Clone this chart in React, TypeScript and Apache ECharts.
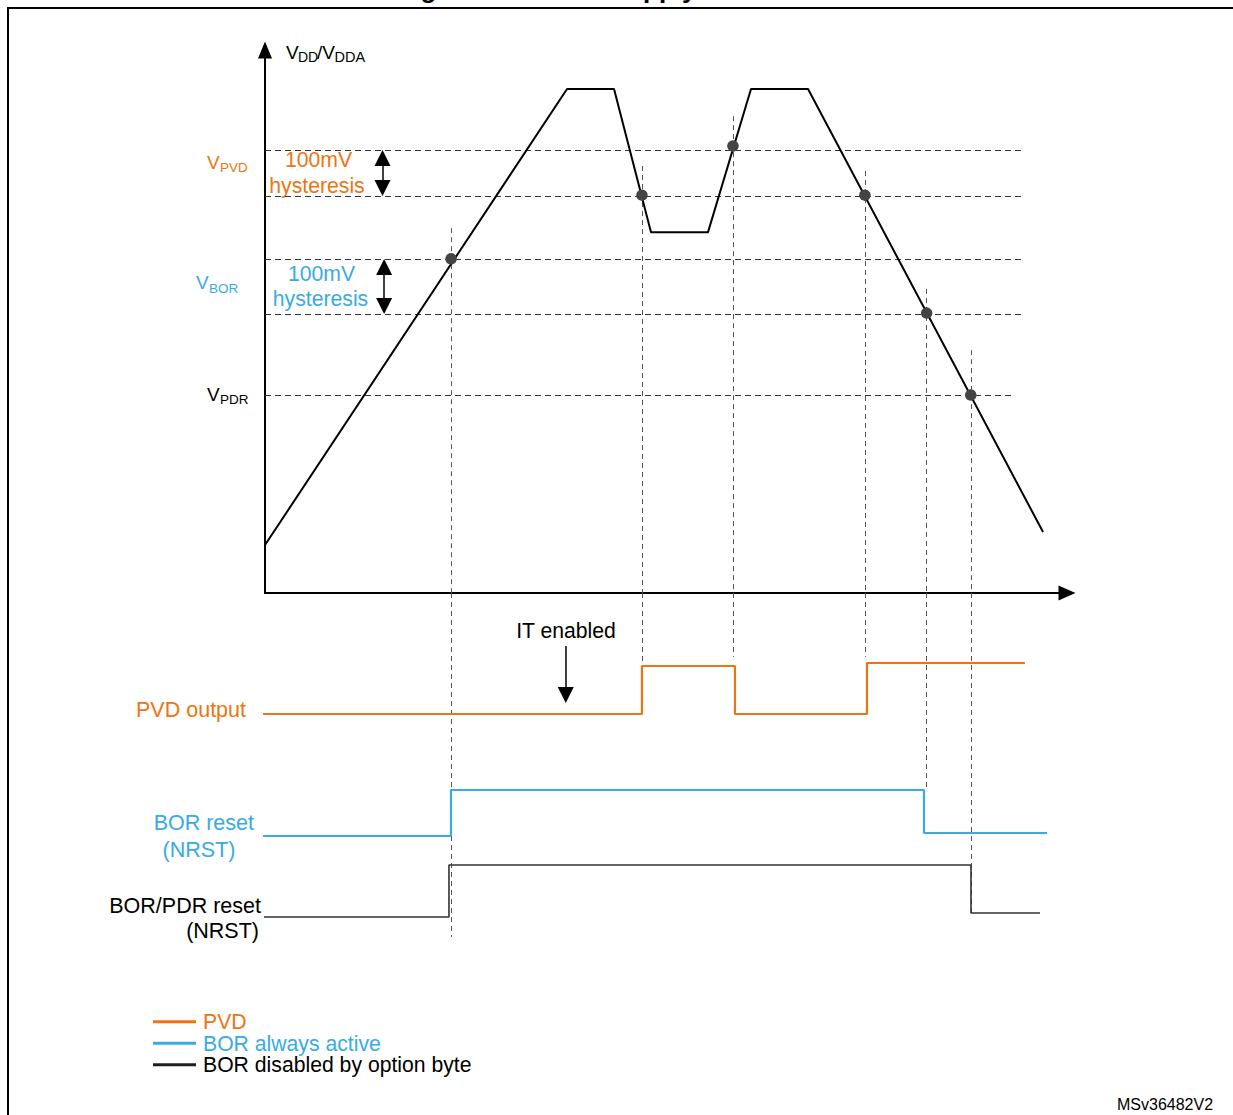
import React, { useEffect, useRef } from "react";
import * as echarts from "echarts";

// ---------- data (time axis 0..100, voltage axis 0..110, signal lanes 0..100) ----------
const curveTimes = [0, 37.66, 43.52, 48.13, 55.24, 60.6, 67.71, 97.01];
const curveVolts = [9.72, 102.1, 102.1, 73.1, 73.1, 102.1, 102.1, 12.36];

const thresholdNames = ["VPVD rising", "VPVD falling", "VBOR rising", "VBOR falling", "VPDR"];
const thresholdVolts = [89.75, 80.43, 67.67, 56.52, 40.11];
const thresholdEnds = [94.26, 94.26, 94.26, 94.26, 93.27];

const eventTimes = [23.2, 47.0, 58.35, 74.8, 82.5, 88.0];
const eventDotVolts = [67.7, 80.6, 90.56, 80.6, 56.7, 40.1];
const eventTopVolts = [73.9, 86.5, 96.6, 85.5, 61.6, 49.2];
const eventBottomLevels = [0.86, 80.1, 81.6, 81.6, 43.8, 7.8];

const pvdTimes = [-0.37, 47.0, 58.6, 75.06, 94.76];
const pvdLevels = [65.13, 78.96, 65.13, 79.83, 79.83];
const borTimes = [-0.37, 23.19, 82.17, 97.51];
const borLevels = [29.97, 43.23, 30.84, 30.84];
const pdrTimes = [-0.37, 22.94, 88.03, 96.63];
const pdrLevels = [6.63, 21.61, 7.78, 7.78];

const hystTimes = [14.65, 14.85];
const hystPairs = [
  [0, 1],
  [2, 3],
];
const itArrowTime = 37.5;
const itArrowFrom = 84.73;
const itArrowTo = 68.3;

const legendNames = ["PVD", "BOR always active", "BOR disabled by option byte"];

// ---------- layout ----------
const W = 1233;
const H = 1115;
const PLOT_LEFT = 265;
const PLOT_RIGHT_PX = 1067;
const G1_TOP = 50;
const G1_BOTTOM = 593;
const G2_BOTTOM = 940;
const Y1_MAX = 110;
const Y2_MAX = 100;
const pxPerV = (G1_BOTTOM - G1_TOP) / Y1_MAX;
const pxPerL = (G2_BOTTOM - G1_BOTTOM) / Y2_MAX;
const HEAD = 16;

const ORANGE = "#EE7412";
const BLUE = "#39ABE2";
const DARK = "#1e1e1e";
const FONT = '"Liberation Sans", Arial, Helvetica, sans-serif';

function stepPoints(times: number[], levels: number[]) {
  const pts: number[][] = [];
  for (let i = 0; i < times.length; i++) {
    if (i > 0) pts.push([times[i], levels[i - 1]]);
    pts.push([times[i], levels[i]]);
  }
  return pts;
}

function T(
  text: string,
  x: number,
  base: number,
  size: number,
  fill: string,
  align: string = "left",
  weight: string = "normal"
) {
  return {
    type: "text",
    x,
    y: base - 0.34 * size,
    silent: true,
    style: {
      text,
      fontSize: size,
      fontFamily: FONT,
      fontWeight: weight,
      fill,
      align,
      verticalAlign: "middle",
    },
  };
}

function buildOption() {
  const headV = HEAD / 2 / pxPerV;
  const headL = HEAD / 2 / pxPerL;
  const hiddenAxis = { show: false };
  return {
    animation: false,
    backgroundColor: "#ffffff",
    grid: [
      {
        left: PLOT_LEFT,
        right: W - PLOT_RIGHT_PX,
        top: G1_TOP,
        bottom: H - G1_BOTTOM,
        outerBoundsMode: "none",
        containLabel: false,
      },
      {
        left: PLOT_LEFT,
        right: W - PLOT_RIGHT_PX,
        top: G1_BOTTOM,
        bottom: H - G2_BOTTOM,
        outerBoundsMode: "none",
        containLabel: false,
      },
    ],
    xAxis: [
      {
        type: "value",
        gridIndex: 0,
        min: 0,
        max: 100,
        axisLine: {
          show: true,
          onZero: false,
          lineStyle: { color: "#000", width: 2 },
          symbol: ["none", "triangle"],
          symbolSize: [15, 17],
        },
        axisTick: { show: false },
        axisLabel: { show: false },
        splitLine: { show: false },
      },
      { type: "value", gridIndex: 1, min: 0, max: 100, ...hiddenAxis },
    ],
    yAxis: [
      {
        type: "value",
        gridIndex: 0,
        min: 0,
        max: Y1_MAX,
        axisLine: {
          show: true,
          onZero: false,
          lineStyle: { color: "#000", width: 2 },
          symbol: ["none", "triangle"],
          symbolSize: [14, 17],
        },
        axisTick: { show: false },
        axisLabel: { show: false },
        splitLine: { show: false },
      },
      { type: "value", gridIndex: 1, min: 0, max: Y2_MAX, ...hiddenAxis },
    ],
    legend: {
      orient: "vertical",
      left: 153,
      top: 1011,
      padding: 0,
      itemGap: 0,
      itemWidth: 43,
      itemHeight: 3,
      icon: "rect",
      selectedMode: false,
      textStyle: { fontSize: 21.2, fontFamily: FONT, lineHeight: 21.5, padding: [0, 0, 0, 2] },
      data: [
        { name: legendNames[0], textStyle: { color: ORANGE } },
        { name: legendNames[1], textStyle: { color: BLUE } },
        { name: legendNames[2], textStyle: { color: "#000" } },
      ],
    },
    series: [
      {
        name: "Thresholds",
        type: "lines",
        coordinateSystem: "cartesian2d",
        xAxisIndex: 0,
        yAxisIndex: 0,
        clip: false,
        silent: true,
        z: 2,
        lineStyle: { color: "#333", width: 1.2, type: [6, 4], opacity: 1 },
        data: thresholdVolts.map((v, i) => ({
          name: thresholdNames[i],
          coords: [
            [0, v],
            [thresholdEnds[i], v],
          ],
        })),
      },
      {
        name: "Events upper",
        type: "lines",
        coordinateSystem: "cartesian2d",
        xAxisIndex: 0,
        yAxisIndex: 0,
        clip: false,
        silent: true,
        z: 2,
        lineStyle: { color: "#555", width: 1, type: [5, 4], opacity: 1 },
        data: eventTimes.map((t, i) => ({
          coords: [
            [t, eventTopVolts[i]],
            [t, 0],
          ],
        })),
      },
      {
        name: "Events lower",
        type: "lines",
        coordinateSystem: "cartesian2d",
        xAxisIndex: 1,
        yAxisIndex: 1,
        clip: false,
        silent: true,
        z: 2,
        lineStyle: { color: "#555", width: 1, type: [5, 4], opacity: 1 },
        data: eventTimes.map((t, i) => ({
          coords: [
            [t, Y2_MAX],
            [t, eventBottomLevels[i]],
          ],
        })),
      },
      {
        name: "Hysteresis",
        type: "lines",
        coordinateSystem: "cartesian2d",
        xAxisIndex: 0,
        yAxisIndex: 0,
        clip: false,
        silent: true,
        z: 4,
        symbol: ["triangle", "triangle"],
        symbolSize: HEAD,
        lineStyle: { color: "#000", width: 1.5, opacity: 1 },
        itemStyle: { color: "#000" },
        data: hystPairs.map((p, i) => ({
          coords: [
            [hystTimes[i], thresholdVolts[p[0]] - headV],
            [hystTimes[i], thresholdVolts[p[1]] + headV],
          ],
        })),
      },
      {
        name: "IT enabled",
        type: "lines",
        coordinateSystem: "cartesian2d",
        xAxisIndex: 1,
        yAxisIndex: 1,
        clip: false,
        silent: true,
        z: 4,
        symbol: ["none", "triangle"],
        symbolSize: [HEAD, HEAD],
        lineStyle: { color: "#000", width: 1.5, opacity: 1 },
        data: [
          {
            coords: [
              [itArrowTime, itArrowFrom],
              [itArrowTime, itArrowTo + headL],
            ],
          },
        ],
      },
      {
        name: "VDD/VDDA",
        type: "line",
        xAxisIndex: 0,
        yAxisIndex: 0,
        clip: false,
        silent: true,
        z: 5,
        symbol: "none",
        lineStyle: { color: "#000", width: 2 },
        itemStyle: { color: "#000" },
        data: curveTimes.map((t, i) => [t, curveVolts[i]]),
      },
      {
        name: "Crossings",
        type: "scatter",
        xAxisIndex: 0,
        yAxisIndex: 0,
        clip: false,
        silent: true,
        z: 6,
        symbol: "circle",
        symbolSize: 11.5,
        itemStyle: { color: "#444", opacity: 1 },
        data: eventTimes.map((t, i) => [t, eventDotVolts[i]]),
      },
      {
        name: legendNames[0],
        type: "line",
        xAxisIndex: 1,
        yAxisIndex: 1,
        clip: false,
        silent: true,
        z: 5,
        symbol: "none",
        color: ORANGE,
        lineStyle: { color: ORANGE, width: 2.2 },
        itemStyle: { color: ORANGE },
        data: stepPoints(pvdTimes, pvdLevels),
      },
      {
        name: legendNames[1],
        type: "line",
        xAxisIndex: 1,
        yAxisIndex: 1,
        clip: false,
        silent: true,
        z: 5,
        symbol: "none",
        color: BLUE,
        lineStyle: { color: BLUE, width: 2.2 },
        itemStyle: { color: BLUE },
        data: stepPoints(borTimes, borLevels),
      },
      {
        name: legendNames[2],
        type: "line",
        xAxisIndex: 1,
        yAxisIndex: 1,
        clip: false,
        silent: true,
        z: 5,
        symbol: "none",
        color: DARK,
        lineStyle: { color: "#333", width: 1.6 },
        itemStyle: { color: DARK },
        data: stepPoints(pdrTimes, pdrLevels),
      },
    ],
    graphic: [
      {
        type: "polyline",
        silent: true,
        shape: {
          points: [
            [8, H + 10],
            [8, 8],
            [W + 10, 8],
          ],
        },
        style: { stroke: "#000", lineWidth: 2, fill: "none" },
      },
      T("Figure 14. Power supply thresholds", 617, -2, 26, "#000", "center", "bold"),
      T("V", 286, 59, 19, "#000"),
      T("DD", 298, 62, 14, "#000"),
      T("/V", 317, 59, 19, "#000"),
      T("DDA", 334.5, 62, 14.5, "#000"),
      T("V", 207, 169, 19, ORANGE),
      T("PVD", 220, 172, 13.5, ORANGE),
      T("V", 196, 289, 19, BLUE),
      T("BOR", 209, 293, 13.5, BLUE),
      T("V", 207, 401, 19, "#000"),
      T("PDR", 220, 404, 13.5, "#000"),
      T("100mV", 318.5, 167, 21.2, ORANGE, "center"),
      T("hysteresis", 317, 193, 21.2, ORANGE, "center"),
      T("100mV", 321.5, 281, 21.2, BLUE, "center"),
      T("hysteresis", 320.5, 306, 21.2, BLUE, "center"),
      T("IT enabled", 566, 638, 21.2, "#000", "center"),
      T("PVD output", 246, 717, 21.5, ORANGE, "right"),
      T("BOR reset", 254, 830, 21.5, BLUE, "right"),
      T("(NRST)", 199, 857, 21.5, BLUE, "center"),
      T("BOR/PDR reset", 261, 913, 21.5, "#000", "right"),
      T("(NRST)", 259, 938, 21.5, "#000", "right"),
      T("MSv36482V2", 1117, 1110, 16, "#000", "left"),
    ],
  };
}

export default function App() {
  const ref = useRef<HTMLDivElement>(null);
  useEffect(() => {
    if (!ref.current) return;
    const chart = echarts.init(ref.current, null, { renderer: "svg" });
    chart.setOption(buildOption() as any);
    return () => {
      chart.dispose();
    };
  }, []);
  return (
    <div
      ref={ref}
      style={{ position: "fixed", left: 0, top: 0, width: W, height: H, background: "#fff" }}
    />
  );
}
